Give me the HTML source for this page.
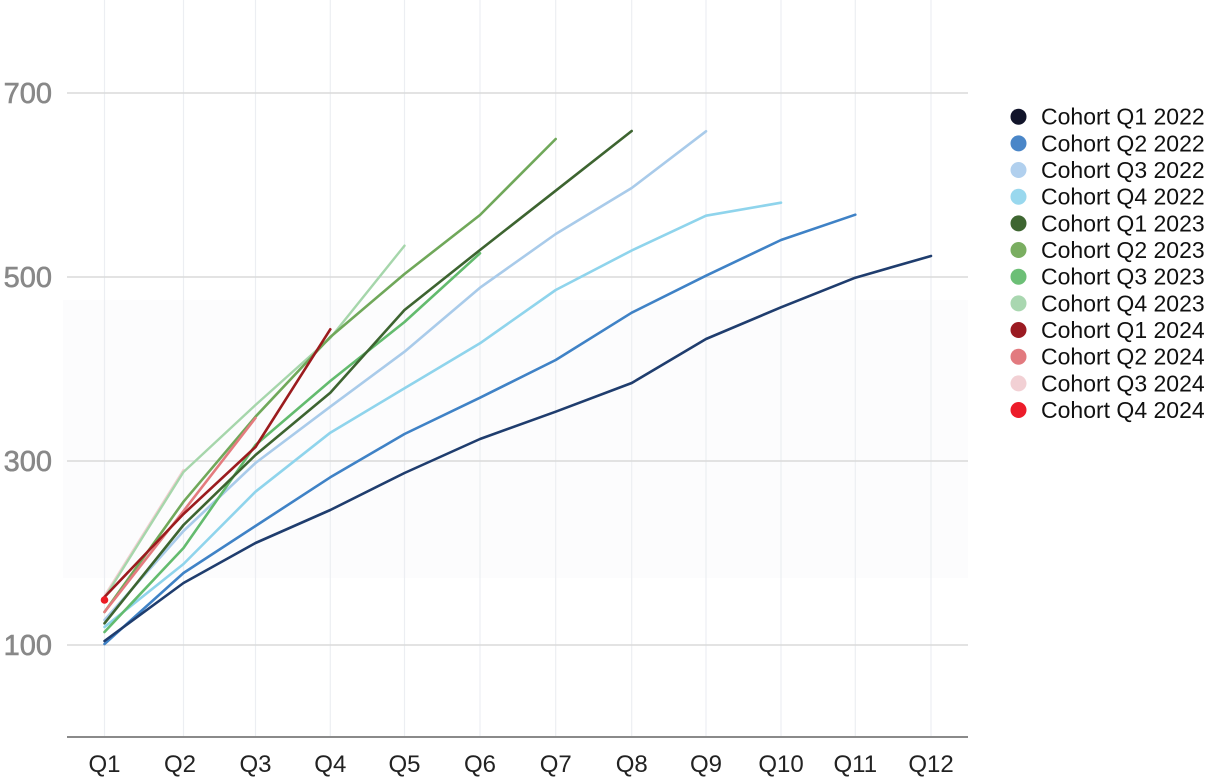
<!DOCTYPE html>
<html><head><meta charset="utf-8"><style>
html,body{margin:0;padding:0;background:#fff;}
svg{display:block;}
text{font-family:"Liberation Sans",sans-serif;}
</style></head><body>
<svg width="1211" height="779" viewBox="0 0 1211 779" xmlns="http://www.w3.org/2000/svg">
<rect x="0" y="0" width="1211" height="779" fill="#fff"/>
<rect x="63" y="300" width="905" height="278" fill="#fcfcfd"/>
<g stroke="#eceef2" stroke-width="1.2">
<line x1="104.5" y1="0" x2="104.5" y2="737"/>
<line x1="183.5" y1="0" x2="183.5" y2="737"/>
<line x1="255.5" y1="0" x2="255.5" y2="737"/>
<line x1="330.3" y1="0" x2="330.3" y2="737"/>
<line x1="404.5" y1="0" x2="404.5" y2="737"/>
<line x1="480" y1="0" x2="480" y2="737"/>
<line x1="555.7" y1="0" x2="555.7" y2="737"/>
<line x1="631.7" y1="0" x2="631.7" y2="737"/>
<line x1="706" y1="0" x2="706" y2="737"/>
<line x1="781" y1="0" x2="781" y2="737"/>
<line x1="855.3" y1="0" x2="855.3" y2="737"/>
<line x1="931" y1="0" x2="931" y2="737"/>
</g>
<g stroke="#dadada" stroke-width="1.5">
<line x1="67" y1="93" x2="968" y2="93"/>
<line x1="67" y1="277" x2="968" y2="277"/>
<line x1="67" y1="461" x2="968" y2="461"/>
<line x1="67" y1="645" x2="968" y2="645"/>
</g>
<line x1="67" y1="737" x2="968" y2="737" stroke="#8a8a8a" stroke-width="2"/>
<g fill="#888" font-size="29" text-anchor="end" stroke="#888" stroke-width="0.6">
<text x="52" y="103">700</text>
<text x="52" y="287">500</text>
<text x="52" y="471">300</text>
<text x="52" y="655">100</text>
</g>
<g fill="#222" font-size="24" text-anchor="middle">
<text x="104.5" y="772">Q1</text>
<text x="180" y="772">Q2</text>
<text x="255.5" y="772">Q3</text>
<text x="330.3" y="772">Q4</text>
<text x="404.5" y="772">Q5</text>
<text x="480" y="772">Q6</text>
<text x="555.7" y="772">Q7</text>
<text x="631.7" y="772">Q8</text>
<text x="706" y="772">Q9</text>
<text x="781" y="772">Q10</text>
<text x="855.3" y="772">Q11</text>
<text x="931" y="772">Q12</text>
</g>
<g fill="none" stroke-linejoin="round" stroke-linecap="round">
<polyline stroke="#f3cfd2" stroke-width="2.4" points="104.5,596 183.5,470"/>
<polyline stroke="#a6d6ab" stroke-width="2.4" points="104.5,598 183.5,472 255.5,405 330.3,338 404.5,245.7"/>
<polyline stroke="#8fd4ec" stroke-width="2.6" points="104.5,627 183.5,564 255.5,491.7 330.3,432.7 404.5,388.3 480,343.3 555.7,290 631.7,250.5 706,215.7 781,202.7"/>
<polyline stroke="#a9cbea" stroke-width="2.6" points="104.5,620 183.5,531 255.5,463 330.3,406.7 404.5,351.7 480,287.7 555.7,234 631.7,188 706,131.3"/>
<polyline stroke="#3f82c6" stroke-width="2.6" points="104.5,644 183.5,573 255.5,526 330.3,477.3 404.5,434 480,397.7 555.7,360 631.7,312.7 706,275.7 781,240 855.3,214.7"/>
<polyline stroke="#1f3d6e" stroke-width="2.6" points="104.5,641 183.5,583 255.5,543 330.3,510 404.5,473 480,439 555.7,411.7 631.7,383 706,339 781,307.3 855.3,277.7 931,256"/>
<polyline stroke="#63bb6e" stroke-width="2.6" points="104.5,632 183.5,548 255.5,445 330.3,381 404.5,322 480,253.3"/>
<polyline stroke="#70a85a" stroke-width="2.6" points="104.5,612 183.5,501.7 255.5,416.7 330.3,337 404.5,274 480,215 555.7,139"/>
<polyline stroke="#3d6430" stroke-width="2.6" points="104.5,623.3 183.5,525 255.5,455 330.3,392.7 404.5,310 480,250 555.7,190.7 631.7,131"/>
<polyline stroke="#e47b7e" stroke-width="2.6" points="104.5,612 183.5,511 255.5,418"/>
<polyline stroke="#9b1b1e" stroke-width="2.6" points="104.5,597 183.5,514 255.5,447 330.3,329.3"/>
</g>
<circle cx="104.5" cy="600" r="3.8" fill="#ec1c24"/>
<g font-size="23" fill="#111">
<circle cx="1018.5" cy="116.7" r="8" fill="#11142a"/><text x="1041" y="124.7">Cohort Q1 2022</text>
<circle cx="1018.5" cy="143.4" r="8" fill="#4a86c8"/><text x="1041" y="151.4">Cohort Q2 2022</text>
<circle cx="1018.5" cy="170.0" r="8" fill="#b1d0ee"/><text x="1041" y="178.0">Cohort Q3 2022</text>
<circle cx="1018.5" cy="196.7" r="8" fill="#99d8ee"/><text x="1041" y="204.7">Cohort Q4 2022</text>
<circle cx="1018.5" cy="223.4" r="8" fill="#3e6631"/><text x="1041" y="231.4">Cohort Q1 2023</text>
<circle cx="1018.5" cy="250.0" r="8" fill="#7aae61"/><text x="1041" y="258.0">Cohort Q2 2023</text>
<circle cx="1018.5" cy="276.7" r="8" fill="#6cbf76"/><text x="1041" y="284.7">Cohort Q3 2023</text>
<circle cx="1018.5" cy="303.4" r="8" fill="#a9d7b0"/><text x="1041" y="311.4">Cohort Q4 2023</text>
<circle cx="1018.5" cy="330.0" r="8" fill="#9b1b22"/><text x="1041" y="338.0">Cohort Q1 2024</text>
<circle cx="1018.5" cy="356.7" r="8" fill="#e27a7f"/><text x="1041" y="364.7">Cohort Q2 2024</text>
<circle cx="1018.5" cy="383.4" r="8" fill="#f2d0d4"/><text x="1041" y="391.4">Cohort Q3 2024</text>
<circle cx="1018.5" cy="410.0" r="8" fill="#ec1c2a"/><text x="1041" y="418.0">Cohort Q4 2024</text>
</g>
</svg>
</body></html>
